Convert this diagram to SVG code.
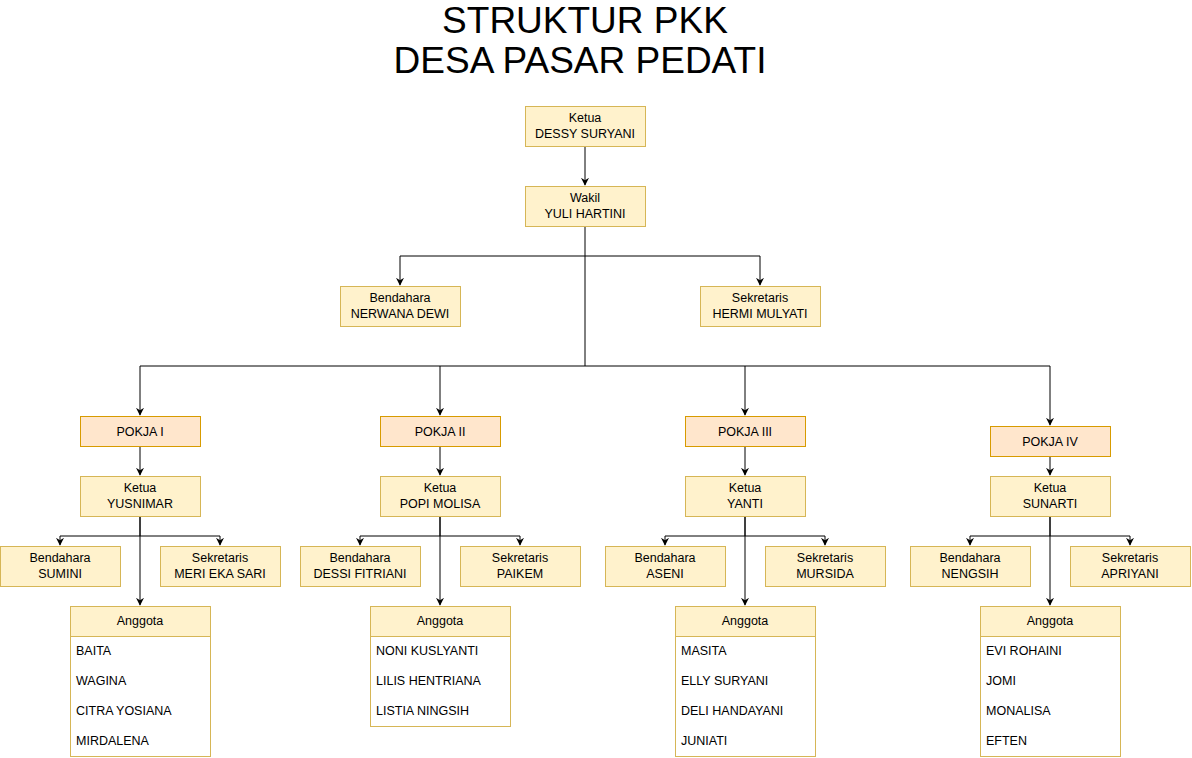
<svg xmlns="http://www.w3.org/2000/svg" width="1192" height="758" viewBox="0 0 1192 758">
<style>
.y{fill:#fff2cc;stroke:#d6b656;stroke-width:1}
.o{fill:#ffe6cc;stroke:#d79b00;stroke-width:1}
.w{fill:#ffffff;stroke:#d6b656;stroke-width:1}
text{font-family:"Liberation Sans",Arial,Helvetica,sans-serif;font-size:12.5px;fill:#000}
.c{text-anchor:middle}
.t{font-size:37px;text-anchor:middle}
.e{fill:none;stroke:#000;stroke-width:1}
</style>
<defs>
<marker id="a" viewBox="0 0 10 10" refX="9" refY="5" markerWidth="8" markerHeight="8" markerUnits="userSpaceOnUse" orient="auto">
<path d="M0,0 L10,5 L0,10 L3,5 Z" fill="#000"/>
</marker>
</defs>
<rect width="1192" height="758" fill="#fff"/>
<g id="title">
<text class="t" x="585" y="33">STRUKTUR PKK</text>
<text class="t" x="580" y="73">DESA PASAR PEDATI</text>
</g>
<g id="connectors">
<path class="e" d="M585,146 V185" marker-end="url(#a)"/>
<path class="e" d="M585,226 V256 H400 V285" marker-end="url(#a)"/>
<path class="e" d="M585,256 H760 V285" marker-end="url(#a)"/>
<path class="e" d="M585,256 V366 H140 V415" marker-end="url(#a)"/>
<path class="e" d="M440,366 V415" marker-end="url(#a)"/>
<path class="e" d="M585,366 H745 V415" marker-end="url(#a)"/>
<path class="e" d="M745,366 H1050 V425" marker-end="url(#a)"/>
<path class="e" d="M140,446 V475" marker-end="url(#a)"/>
<path class="e" d="M440,446 V475" marker-end="url(#a)"/>
<path class="e" d="M745,446 V475" marker-end="url(#a)"/>
<path class="e" d="M1050,456 V475" marker-end="url(#a)"/>
<path class="e" d="M140,516 V536 H60 V545" marker-end="url(#a)"/>
<path class="e" d="M140,536 H220 V545" marker-end="url(#a)"/>
<path class="e" d="M140,516 V605" marker-end="url(#a)"/>
<path class="e" d="M440,516 V536 H360 V545" marker-end="url(#a)"/>
<path class="e" d="M440,536 H520 V545" marker-end="url(#a)"/>
<path class="e" d="M440,516 V605" marker-end="url(#a)"/>
<path class="e" d="M745,516 V536 H665 V545" marker-end="url(#a)"/>
<path class="e" d="M745,536 H825 V545" marker-end="url(#a)"/>
<path class="e" d="M745,516 V605" marker-end="url(#a)"/>
<path class="e" d="M1050,516 V536 H970 V545" marker-end="url(#a)"/>
<path class="e" d="M1050,536 H1130 V545" marker-end="url(#a)"/>
<path class="e" d="M1050,516 V605" marker-end="url(#a)"/>
</g>
<g id="ketua"><rect class="y" x="525.5" y="106.5" width="120" height="40"/><text class="c" x="585" y="122">Ketua</text><text class="c" x="585" y="138">DESSY SURYANI</text></g>
<g id="wakil"><rect class="y" x="525.5" y="186.5" width="120" height="40"/><text class="c" x="585" y="202">Wakil</text><text class="c" x="585" y="218">YULI HARTINI</text></g>
<g id="bendahara"><rect class="y" x="340.5" y="286.5" width="120" height="40"/><text class="c" x="400" y="302">Bendahara</text><text class="c" x="400" y="318">NERWANA DEWI</text></g>
<g id="sekretaris"><rect class="y" x="700.5" y="286.5" width="120" height="40"/><text class="c" x="760" y="302">Sekretaris</text><text class="c" x="760" y="318">HERMI MULYATI</text></g>

<g id="pokja1"><rect class="o" x="80.5" y="416.5" width="120" height="30"/><text class="c" x="140" y="436">POKJA I</text></g>
<g id="pokja2"><rect class="o" x="380.5" y="416.5" width="120" height="30"/><text class="c" x="440" y="436">POKJA II</text></g>
<g id="pokja3"><rect class="o" x="685.5" y="416.5" width="120" height="30"/><text class="c" x="745" y="436">POKJA III</text></g>
<g id="pokja4"><rect class="o" x="990.5" y="426.5" width="120" height="30"/><text class="c" x="1050" y="446">POKJA IV</text></g>

<g id="ketua1"><rect class="y" x="80.5" y="476.5" width="120" height="40"/><text class="c" x="140" y="492">Ketua</text><text class="c" x="140" y="508">YUSNIMAR</text></g>
<g id="ketua2"><rect class="y" x="380.5" y="476.5" width="120" height="40"/><text class="c" x="440" y="492">Ketua</text><text class="c" x="440" y="508">POPI MOLISA</text></g>
<g id="ketua3"><rect class="y" x="685.5" y="476.5" width="120" height="40"/><text class="c" x="745" y="492">Ketua</text><text class="c" x="745" y="508">YANTI</text></g>
<g id="ketua4"><rect class="y" x="990.5" y="476.5" width="120" height="40"/><text class="c" x="1050" y="492">Ketua</text><text class="c" x="1050" y="508">SUNARTI</text></g>

<g id="bend1"><rect class="y" x="0.5" y="546.5" width="120" height="40"/><text class="c" x="60" y="562">Bendahara</text><text class="c" x="60" y="578">SUMINI</text></g>
<g id="sek1"><rect class="y" x="160.5" y="546.5" width="120" height="40"/><text class="c" x="220" y="562">Sekretaris</text><text class="c" x="220" y="578">MERI EKA SARI</text></g>
<g id="bend2"><rect class="y" x="300.5" y="546.5" width="120" height="40"/><text class="c" x="360" y="562">Bendahara</text><text class="c" x="360" y="578">DESSI FITRIANI</text></g>
<g id="sek2"><rect class="y" x="460.5" y="546.5" width="120" height="40"/><text class="c" x="520" y="562">Sekretaris</text><text class="c" x="520" y="578">PAIKEM</text></g>
<g id="bend3"><rect class="y" x="605.5" y="546.5" width="120" height="40"/><text class="c" x="665" y="562">Bendahara</text><text class="c" x="665" y="578">ASENI</text></g>
<g id="sek3"><rect class="y" x="765.5" y="546.5" width="120" height="40"/><text class="c" x="825" y="562">Sekretaris</text><text class="c" x="825" y="578">MURSIDA</text></g>
<g id="bend4"><rect class="y" x="910.5" y="546.5" width="120" height="40"/><text class="c" x="970" y="562">Bendahara</text><text class="c" x="970" y="578">NENGSIH</text></g>
<g id="sek4"><rect class="y" x="1070.5" y="546.5" width="120" height="40"/><text class="c" x="1130" y="562">Sekretaris</text><text class="c" x="1130" y="578">APRIYANI</text></g>

<g id="anggota1"><rect class="w" x="70.5" y="606.5" width="140" height="150"/><rect class="y" x="70.5" y="606.5" width="140" height="30"/><text class="c" x="140" y="625">Anggota</text>
<text x="76" y="655">BAITA</text><text x="76" y="685">WAGINA</text><text x="76" y="715">CITRA YOSIANA</text><text x="76" y="745">MIRDALENA</text></g>
<g id="anggota2"><rect class="w" x="370.5" y="606.5" width="140" height="120"/><rect class="y" x="370.5" y="606.5" width="140" height="30"/><text class="c" x="440" y="625">Anggota</text>
<text x="376" y="655">NONI KUSLYANTI</text><text x="376" y="685">LILIS HENTRIANA</text><text x="376" y="715">LISTIA NINGSIH</text></g>
<g id="anggota3"><rect class="w" x="675.5" y="606.5" width="140" height="150"/><rect class="y" x="675.5" y="606.5" width="140" height="30"/><text class="c" x="745" y="625">Anggota</text>
<text x="681" y="655">MASITA</text><text x="681" y="685">ELLY SURYANI</text><text x="681" y="715">DELI HANDAYANI</text><text x="681" y="745">JUNIATI</text></g>
<g id="anggota4"><rect class="w" x="980.5" y="606.5" width="140" height="150"/><rect class="y" x="980.5" y="606.5" width="140" height="30"/><text class="c" x="1050" y="625">Anggota</text>
<text x="986" y="655">EVI ROHAINI</text><text x="986" y="685">JOMI</text><text x="986" y="715">MONALISA</text><text x="986" y="745">EFTEN</text></g>
</svg>
